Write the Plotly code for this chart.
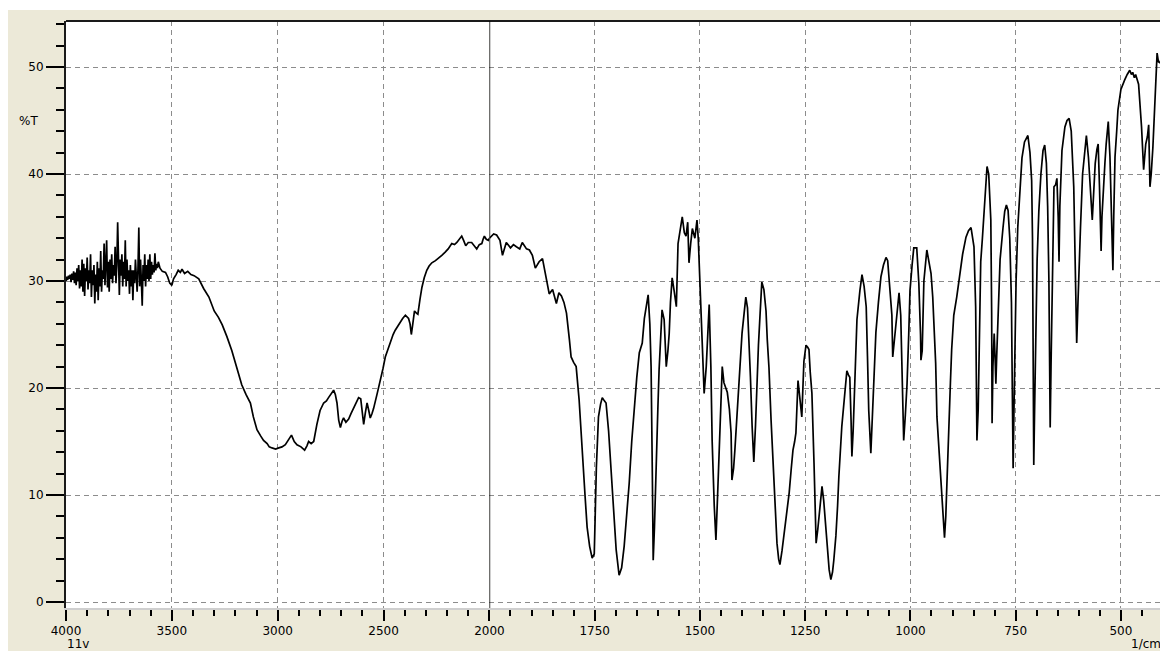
import numpy as np
import plotly.graph_objects as go

# ---------------- data ----------------
noise_wn = [4000, 3996, 3992, 3988, 3984, 3980, 3976, 3972, 3968, 3964,
            3960, 3956, 3952, 3948, 3944, 3940, 3936, 3932, 3928, 3924,
            3920, 3916, 3912, 3908, 3904, 3900, 3896, 3892, 3888, 3884,
            3880, 3876, 3872, 3868, 3864, 3860, 3856, 3852, 3848, 3844,
            3840, 3836, 3832, 3828, 3824, 3820, 3816, 3812, 3808, 3804,
            3800, 3796, 3792, 3788, 3784, 3780, 3776, 3772, 3768, 3764,
            3760, 3756, 3752, 3748, 3744, 3740, 3736, 3732, 3728, 3724,
            3720, 3716, 3712, 3708, 3704, 3700, 3696, 3692, 3688, 3684,
            3680, 3676, 3672, 3668, 3664, 3660, 3656, 3652, 3648, 3644,
            3640, 3636, 3632, 3628, 3624, 3620, 3616, 3612, 3608, 3604,
            3600, 3596, 3592, 3588, 3584, 3580, 3576, 3572, 3568, 3564,
            3560]
noise_t = [30.0, 30.4, 30.1, 30.5, 30.2, 30.6, 29.9, 30.7, 30.1, 30.9,
           29.8, 30.8, 29.6, 31.2, 30.0, 31.5, 29.3, 31.0, 29.5, 32.0,
           29.0, 31.6, 28.6, 31.2, 30.0, 32.2, 29.2, 31.0, 29.8, 32.5,
           28.5, 31.0, 29.6, 31.5, 27.9, 30.6, 29.0, 31.8, 28.2, 31.2,
           29.5, 32.8, 29.0, 31.0, 30.2, 33.5, 29.6, 31.2, 33.8, 29.4,
           31.8, 29.0, 32.0, 30.2, 32.5, 29.8, 31.5, 30.5, 33.2, 29.8,
           31.5, 35.5, 30.0, 28.7, 32.0, 30.5, 32.5, 29.5, 31.8, 30.2,
           33.8, 29.5, 32.0, 30.0, 31.0, 28.8, 31.5, 29.5, 31.0, 28.2,
           31.0, 29.8, 32.0, 30.5, 29.0, 31.2, 35.0, 29.5, 32.0, 30.0,
           27.7, 31.5, 30.0, 32.5, 29.5, 31.5, 30.2, 32.0, 30.0, 32.5,
           30.2, 31.8, 30.6, 31.5, 30.8, 32.6, 31.0, 31.6, 31.2, 31.8,
           31.3]

left_wn = [3556, 3545, 3530, 3520, 3510, 3500, 3492, 3480, 3470, 3460, 3452, 3440, 3425, 3410,
           3395, 3373, 3350, 3325, 3300, 3280, 3262, 3240, 3217, 3195, 3170, 3150, 3129, 3115,
           3098, 3080, 3067, 3050, 3040, 3027, 3010, 2995, 2980, 2964, 2950, 2935, 2922, 2909,
           2890, 2873, 2862, 2854, 2842, 2830, 2815, 2800, 2783, 2770, 2760, 2748, 2736, 2728,
           2720, 2712, 2704, 2696, 2689, 2678, 2665, 2654, 2642, 2630, 2618, 2608, 2600, 2594,
           2586, 2578, 2570, 2563, 2555, 2547, 2530, 2515, 2503, 2492, 2480, 2468, 2455, 2445,
           2432, 2421, 2410, 2397, 2390, 2382, 2375, 2369, 2362, 2354, 2345, 2338, 2328, 2319,
           2308, 2296, 2285, 2272, 2255, 2241, 2225, 2209, 2195, 2178, 2165, 2154, 2142, 2131,
           2122, 2112, 2100, 2084, 2072, 2060, 2048, 2036, 2030, 2024, 2015, 2005, 2000]
left_t = [31.2, 30.9, 30.8, 30.4, 29.8, 29.6, 30.2, 30.6, 31.0, 30.8, 31.1, 30.7, 30.9, 30.6,
          30.5, 30.2, 29.3, 28.5, 27.2, 26.6, 25.9, 24.8, 23.5, 22.0, 20.3, 19.4, 18.6, 17.3,
          16.1, 15.5, 15.1, 14.8, 14.5, 14.4, 14.3, 14.4, 14.5, 14.7, 15.2, 15.6, 15.0, 14.7,
          14.5, 14.2, 14.6, 15.0, 14.8, 15.0, 16.6, 17.9, 18.6, 18.8, 19.1, 19.5, 19.8, 19.4,
          18.6, 17.0, 16.3, 16.9, 17.2, 16.8, 17.1, 17.6, 18.1, 18.7, 19.1, 19.0, 17.5, 16.6,
          17.7, 18.6, 17.9, 17.2, 17.6, 18.1, 19.5, 20.7, 21.8, 22.9, 23.6, 24.1, 25.0, 25.4,
          25.8, 26.2, 26.5, 26.8, 26.7, 26.5, 26.0, 25.0, 26.0, 27.2, 27.0, 26.9, 28.3, 29.4,
          30.3, 31.0, 31.4, 31.7, 31.9, 32.1, 32.4, 32.7, 33.0, 33.5, 33.4, 33.6, 33.9, 34.2,
          33.8, 33.3, 33.6, 33.6, 33.3, 33.0, 33.4, 33.5, 33.9, 34.2, 33.9, 33.8, 34.0]

right_wn = [2000, 1990, 1983, 1975, 1969, 1960, 1950, 1943, 1936, 1928, 1922, 1912, 1905, 1898,
            1891, 1882, 1874, 1866, 1858, 1850, 1841, 1835, 1829, 1823, 1817, 1810, 1806, 1800,
            1794, 1787, 1779, 1773, 1768, 1762, 1756, 1751, 1746, 1741, 1736, 1732, 1727, 1723,
            1717, 1711, 1705, 1699, 1692, 1686, 1680, 1674, 1668, 1662, 1656, 1650, 1644, 1637,
            1632, 1628, 1623, 1619, 1616, 1613, 1611, 1608, 1606, 1600, 1597, 1593, 1590, 1585,
            1580, 1576, 1573, 1570, 1566, 1561, 1556, 1552, 1547, 1542, 1537, 1533, 1529, 1526,
            1522, 1518, 1512, 1507, 1504, 1502, 1498, 1495, 1490, 1485, 1480, 1478, 1474, 1471,
            1466, 1462, 1458, 1454, 1450, 1447, 1443, 1438, 1435, 1430, 1426, 1424, 1420, 1417,
            1412, 1407, 1404, 1400, 1395, 1391, 1387, 1384, 1380, 1376, 1372, 1368, 1365, 1361,
            1357, 1353, 1348, 1343, 1340, 1336, 1331, 1326, 1321, 1317, 1313, 1310, 1305, 1300,
            1294, 1288, 1283, 1279, 1275, 1272, 1267, 1264, 1262, 1258, 1253, 1248, 1244, 1241,
            1238, 1234, 1229, 1224, 1220, 1217, 1213, 1210, 1206, 1203, 1198, 1193, 1189, 1185,
            1182, 1177, 1173, 1170, 1163, 1158, 1153, 1151, 1147, 1144, 1141, 1139, 1136, 1134,
            1130, 1127, 1120, 1115, 1110, 1105, 1102, 1099, 1094, 1089, 1085, 1082, 1076, 1070,
            1064, 1058, 1054, 1049, 1044, 1042, 1038, 1035, 1030, 1027, 1023, 1018, 1016, 1012,
            1008, 1004, 1001, 996, 992, 985, 980, 976, 975, 972, 968, 961, 956, 951,
            947, 944, 940, 937, 932, 926, 922, 919, 916, 914, 909, 905, 902, 897,
            890, 884, 876, 868, 862, 856, 849, 845, 843, 842, 839, 837, 835, 833,
            829, 825, 821, 818, 814, 809, 807, 806, 804, 801, 799, 797, 795, 791,
            787, 780, 776, 772, 768, 764, 760, 758, 756, 754, 752, 749, 745, 740,
            735, 729, 721, 716, 712, 710, 708, 707, 705, 702, 699, 695, 690, 685,
            681, 677, 674, 671, 669, 668, 666, 663, 659, 655, 652, 649, 647, 645,
            640, 633, 628, 623, 618, 612, 608, 605, 602, 599, 596, 591, 586, 582,
            577, 573, 568, 565, 561, 557, 554, 551, 549, 547, 545, 542, 538, 535,
            530, 526, 521, 519, 517, 514, 510, 507, 500, 495, 491, 485, 479, 475,
            472, 468, 465, 458, 454, 451, 446, 441, 437, 434, 431, 428, 424, 419,
            414, 411, 407, 403, 400]
right_t = [34.0, 34.4, 34.3, 33.8, 32.4, 33.6, 33.1, 33.4, 33.2, 33.0, 33.6, 33.0, 32.9, 32.4,
           31.2, 31.8, 32.1, 30.5, 28.8, 29.2, 27.9, 28.9, 28.6, 28.0, 27.0, 24.5, 22.9, 22.4,
           22.0, 18.9, 13.3, 10.0, 7.0, 5.2, 4.1, 4.5, 12.6, 17.3, 18.5, 19.1, 18.8, 18.6,
           16.0, 12.6, 8.5, 4.9, 2.5, 3.2, 5.2, 8.0, 11.1, 15.0, 18.4, 21.0, 23.3, 24.2,
           26.5, 27.6, 28.7, 26.0, 22.0, 11.7, 3.9, 7.0, 10.4, 18.0, 21.7, 25.0, 27.3, 26.4,
           22.0, 23.5, 25.1, 28.0, 30.3, 29.0, 27.6, 33.5, 34.8, 36.0, 34.5, 34.2, 35.5, 31.7,
           33.5, 34.9, 34.0, 35.7, 34.0, 32.1, 28.0, 25.8, 19.5, 22.0, 27.0, 27.8, 22.0, 15.1,
           9.0, 5.8, 10.0, 14.8, 19.0, 22.0, 20.5, 19.8, 19.6, 18.0, 15.8, 11.4, 12.5, 14.2,
           17.5, 20.5, 23.0, 25.1, 27.0, 28.5, 27.5, 25.1, 21.0, 16.4, 13.1, 16.5, 20.0, 24.0,
           27.0, 29.9, 29.2, 27.2, 24.5, 21.9, 17.0, 12.3, 8.5, 5.5, 4.0, 3.5, 4.8, 6.4,
           8.3, 10.2, 12.5, 14.2, 15.0, 15.8, 20.7, 19.5, 18.8, 17.3, 22.5, 24.0, 23.8, 23.6,
           21.5, 19.5, 13.0, 5.5, 6.8, 8.0, 9.5, 10.8, 9.5, 8.0, 4.9, 3.0, 2.1, 2.8,
           3.9, 6.2, 9.0, 11.7, 16.4, 18.5, 20.4, 21.6, 21.2, 21.0, 17.0, 13.6, 16.0, 18.8,
           22.5, 26.4, 29.1, 30.6, 29.5, 27.6, 23.0, 17.9, 13.9, 19.2, 22.0, 25.2, 28.0, 30.4,
           31.5, 32.2, 31.9, 29.5, 26.8, 22.9, 24.5, 26.2, 27.8, 28.9, 26.8, 19.0, 15.1, 17.5,
           20.4, 25.0, 29.1, 31.5, 33.1, 33.1, 29.8, 25.0, 22.6, 23.5, 30.0, 32.9, 31.8, 30.7,
           28.5, 26.1, 22.3, 17.3, 14.2, 10.0, 8.0, 6.0, 8.0, 10.7, 16.9, 20.5, 23.6, 26.8,
           28.5, 30.1, 32.5, 34.1, 34.7, 35.0, 33.2, 27.6, 19.8, 15.1, 18.0, 21.8, 27.0, 31.8,
           34.0, 36.3, 38.8, 40.7, 40.0, 35.7, 27.0, 16.7, 22.0, 25.1, 23.0, 20.4, 23.0, 28.0,
           32.0, 35.0, 36.5, 37.1, 36.6, 34.0, 28.0, 20.0, 12.5, 18.0, 24.0, 30.0, 35.0, 38.5,
           41.5, 43.0, 43.6, 42.0, 39.4, 34.0, 24.0, 12.8, 18.0, 26.0, 32.0, 36.5, 40.0, 42.2,
           42.7, 41.0, 37.0, 30.0, 22.0, 16.3, 22.0, 30.0, 38.8, 39.0, 39.6, 36.0, 31.8, 37.0,
           42.2, 44.4, 45.0, 45.2, 44.0, 38.8, 32.0, 24.2, 28.0, 32.0, 35.0, 40.0, 42.5, 43.6,
           41.5, 38.8, 35.7, 38.0, 41.0, 42.3, 42.8, 39.0, 35.0, 32.8, 36.0, 38.5, 41.0, 42.8,
           44.9, 41.6, 35.3, 31.0, 36.0, 41.6, 44.0, 46.0, 47.9, 48.5, 48.8, 49.3, 49.7, 49.3,
           49.5, 49.0, 49.3, 48.4, 46.5, 44.4, 40.4, 42.8, 43.5, 44.6, 38.8, 40.0, 42.5, 46.8,
           51.3, 50.5, 50.4, 51.0, 50.6]

left_ticks = [4000, 3500, 3000, 2500]
right_ticks = [2000, 1750, 1500, 1250, 1000, 750, 500]
y_ticks = [0, 10, 20, 30, 40, 50]

# ---------------- figure ----------------
wn_left = np.array(noise_wn + left_wn, dtype=float)
t_left = np.array(noise_t + left_t, dtype=float)
wn_right = np.array(right_wn, dtype=float)
t_right = np.array(right_t, dtype=float)

BG = "#ECE9D8"
GRID = "#8c8c8c"
FONT = dict(family="DejaVu Sans", size=12, color="#000000")

fig = go.Figure()
fig.add_trace(go.Scatter(x=wn_left, y=t_left, mode="lines", xaxis="x", yaxis="y",
                         line=dict(color="#000000", width=1.7), showlegend=False,
                         hoverinfo="skip"))
fig.add_trace(go.Scatter(x=wn_right, y=t_right, mode="lines", xaxis="x2", yaxis="y",
                         line=dict(color="#000000", width=1.7), showlegend=False,
                         hoverinfo="skip"))

split = 0.386
common_x = dict(
    ticks="outside", ticklen=11, tickwidth=2, tickcolor="#000000",
    showgrid=True, gridcolor=GRID, gridwidth=1, griddash="5px,4px",
    zeroline=False, showline=True, linecolor="#cfcfcf", linewidth=2,
    tickfont=FONT, ticklabelstandoff=0,
)
# The page body adds an 8px white border, so the figure is 8px smaller than the window.
fig.update_layout(
    width=1160, height=643,
    margin=dict(l=58, r=5, t=13, b=43),
    paper_bgcolor=BG, plot_bgcolor="#FFFFFF",
    font=FONT,
    xaxis=dict(domain=[0, split], range=[4000, 2000], anchor="y",
               tickmode="array", tickvals=left_ticks,
               ticktext=[str(v) for v in left_ticks],
               minor=dict(tickmode="linear", tick0=0, dtick=100, ticks="outside",
                          ticklen=6, tickwidth=2, tickcolor="#000000", showgrid=False),
               **common_x),
    xaxis2=dict(domain=[split, 1], range=[2000, 400], anchor="y",
                tickmode="array", tickvals=right_ticks,
                ticktext=[str(v) for v in right_ticks],
                minor=dict(tickmode="linear", tick0=0, dtick=50, ticks="outside",
                           ticklen=6, tickwidth=2, tickcolor="#000000", showgrid=False),
                **common_x),
    yaxis=dict(range=[-0.56, 54.3], anchor="x",
               tickmode="array", tickvals=y_ticks,
               ticks="outside", ticklen=18, tickwidth=2, tickcolor="#000000",
               minor=dict(tickmode="linear", tick0=0, dtick=2, ticks="outside",
                          ticklen=8, tickwidth=2, tickcolor="#000000", showgrid=False),
               showgrid=True, gridcolor=GRID, gridwidth=1, griddash="5px,4px",
               zeroline=False, showline=True, linecolor="#1a1a1a", linewidth=2,
               tickfont=FONT),
    shapes=[
        # thin white strip at the very top of the window
        dict(type="rect", xref="paper", yref="paper", x0=-0.07, x1=1.02,
             y0=1.0187, y1=1.05, fillcolor="#FFFFFF", line=dict(width=0), layer="below"),
        # frame: dark top edge, light right edge
        dict(type="line", xref="paper", yref="paper", x0=0, x1=1, y0=1, y1=1,
             line=dict(color="#1a1a1a", width=2)),
        dict(type="line", xref="paper", yref="paper", x0=1, x1=1, y0=0, y1=1,
             line=dict(color="#cfcfcf", width=2)),
        # solid marker line at 2000 cm-1
        dict(type="line", xref="x2", yref="paper", x0=2000, x1=2000, y0=0, y1=1,
             line=dict(color="#000000", width=1.5)),
    ],
    annotations=[
        dict(text="%T", xref="paper", yref="y", x=-0.0237, y=45, xanchor="right",
             yanchor="middle", showarrow=False, font=FONT),
        dict(text="11v", xref="paper", yref="paper", x=0.011, y=-0.0615, xanchor="center",
             yanchor="middle", showarrow=False, font=FONT),
        dict(text="1/cm", xref="paper", yref="paper", x=0.9845, y=-0.0615, xanchor="center",
             yanchor="middle", showarrow=False, font=FONT),
    ],
)

fig.write_html("out.html")
